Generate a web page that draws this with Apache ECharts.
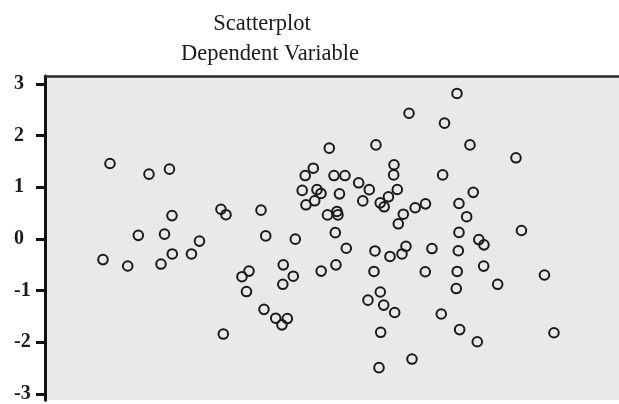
<!DOCTYPE html>
<html>
<head>
<meta charset="utf-8">
<script src="https://cdn.jsdelivr.net/npm/echarts@6/dist/echarts.min.js"></script>
<style>
html,body{margin:0;padding:0;background:#fff;}
#chart{width:619px;height:404px;}
</style>
</head>
<body>
<div id="chart"></div>
<script>
// Title lines
const titleLines = ["Scatterplot", "Dependent Variable"];
// Y tick labels
const yTicks = [-3, -2, -1, 0, 1, 2, 3];
// x values (predicted, arbitrary axis units)
const xValues = [
 1.243,1.989,2.381,2.429,1.785,2.286,2.955,3.366,3.462,4.132,4.222,4.788,
 1.109,1.582,2.219,2.435,2.802,3.768,3.902,3.854,4.558,4.749,4.549,4.189,4.413,4.635,4.533,3.411,
 5.438,5.132,4.977,5.528,5.738,6.676,6.670,6.000,6.203,4.920,5.203,5.279,5.633,6.739,
 4.992,5.159,6.079,6.570,6.412,6.488,5.404,5.585,5.604,6.854,6.758,7.081,7.278,
 5.553,5.763,6.312,6.905,6.829,6.599,7.402,5.566,5.283,6.293,6.414,6.178,6.479,6.689,6.421,6.389,7.020,7.274,
 7.881,6.963,7.642,6.331,8.129,9.009,7.607,8.192,7.919,8.066,7.919,9.114,8.298,8.397,7.906,8.391,7.885,9.554,7.867,8.659,7.580,7.932,8.269,9.736
];
// y values (dependent variable residuals)
const yValues = [
 1.459,1.253,1.350,0.451,0.069,0.092,-0.042,0.574,0.469,0.557,0.059,-0.004,
 -0.400,-0.524,-0.486,-0.291,-0.291,-0.731,-0.622,-1.018,-0.501,-0.721,-0.878,-1.362,-1.534,-1.540,-1.662,-1.840,
 1.756,1.368,1.226,1.226,1.226,1.435,1.239,1.086,0.953,0.939,0.953,0.880,0.872,0.956,
 0.660,0.738,0.736,0.815,0.698,0.622,0.465,0.532,0.465,0.478,0.293,0.603,0.679,
 0.121,-0.180,-0.233,-0.143,-0.291,-0.339,-0.186,-0.501,-0.622,-0.629,-1.027,-1.184,-1.280,-1.423,-1.806,-2.490,-2.324,-0.635,
 2.814,2.431,2.240,1.819,1.819,1.570,1.239,0.901,0.685,0.430,0.126,0.163,-0.013,-0.115,-0.228,-0.526,-0.629,-0.698,-0.960,-0.878,-1.452,-1.754,-1.989,-1.815
];

const points = xValues.map((x, i) => [x, yValues[i]]);
const chart = echarts.init(document.getElementById('chart'));
const serif = "'Liberation Serif', 'Times New Roman', serif";
chart.setOption({
  animation: false,
  backgroundColor: '#ffffff',
  graphic: [
    { type: 'text', x: 262, y: 24, style: { text: titleLines[0], font: "22.5px " + serif, fill: '#1a1a1a', align: 'center', verticalAlign: 'middle' } },
    { type: 'text', x: 270, y: 54, style: { text: titleLines[1], font: "22.5px " + serif, fill: '#1a1a1a', align: 'center', verticalAlign: 'middle' } }
  ],
  grid: { left: 45, right: 0, top: 76, bottom: 0, show: true, backgroundColor: '#e9e9e9', borderWidth: 0 },
  xAxis: {
    type: 'value', position: 'top', min: 0, max: 10.98,
    axisLine: { show: true, onZero: false, lineStyle: { color: '#2a2a2a', width: 2.5 } },
    axisTick: { show: false }, axisLabel: { show: false }, splitLine: { show: false }
  },
  yAxis: {
    type: 'value', min: -3.122, max: 3.152,
    axisLine: { show: true, onZero: false, lineStyle: { color: '#111', width: 3 } },
    axisTick: { show: true, length: 9, customValues: yTicks, lineStyle: { color: '#111', width: 3 } },
    axisLabel: { customValues: yTicks, align: 'left', margin: 31, fontFamily: serif, fontWeight: 'bold', fontSize: 20, color: '#1a1a1a' },
    splitLine: { show: false }
  },
  series: [{
    type: 'scatter', data: points,
    symbol: 'circle',
    symbolSize: 9.6,
    itemStyle: { color: 'rgba(0,0,0,0)', borderColor: '#1a1a1a', borderWidth: 2, opacity: 1 },
    emphasis: { disabled: true }, clip: false
  }]
});
</script>
</body>
</html>
